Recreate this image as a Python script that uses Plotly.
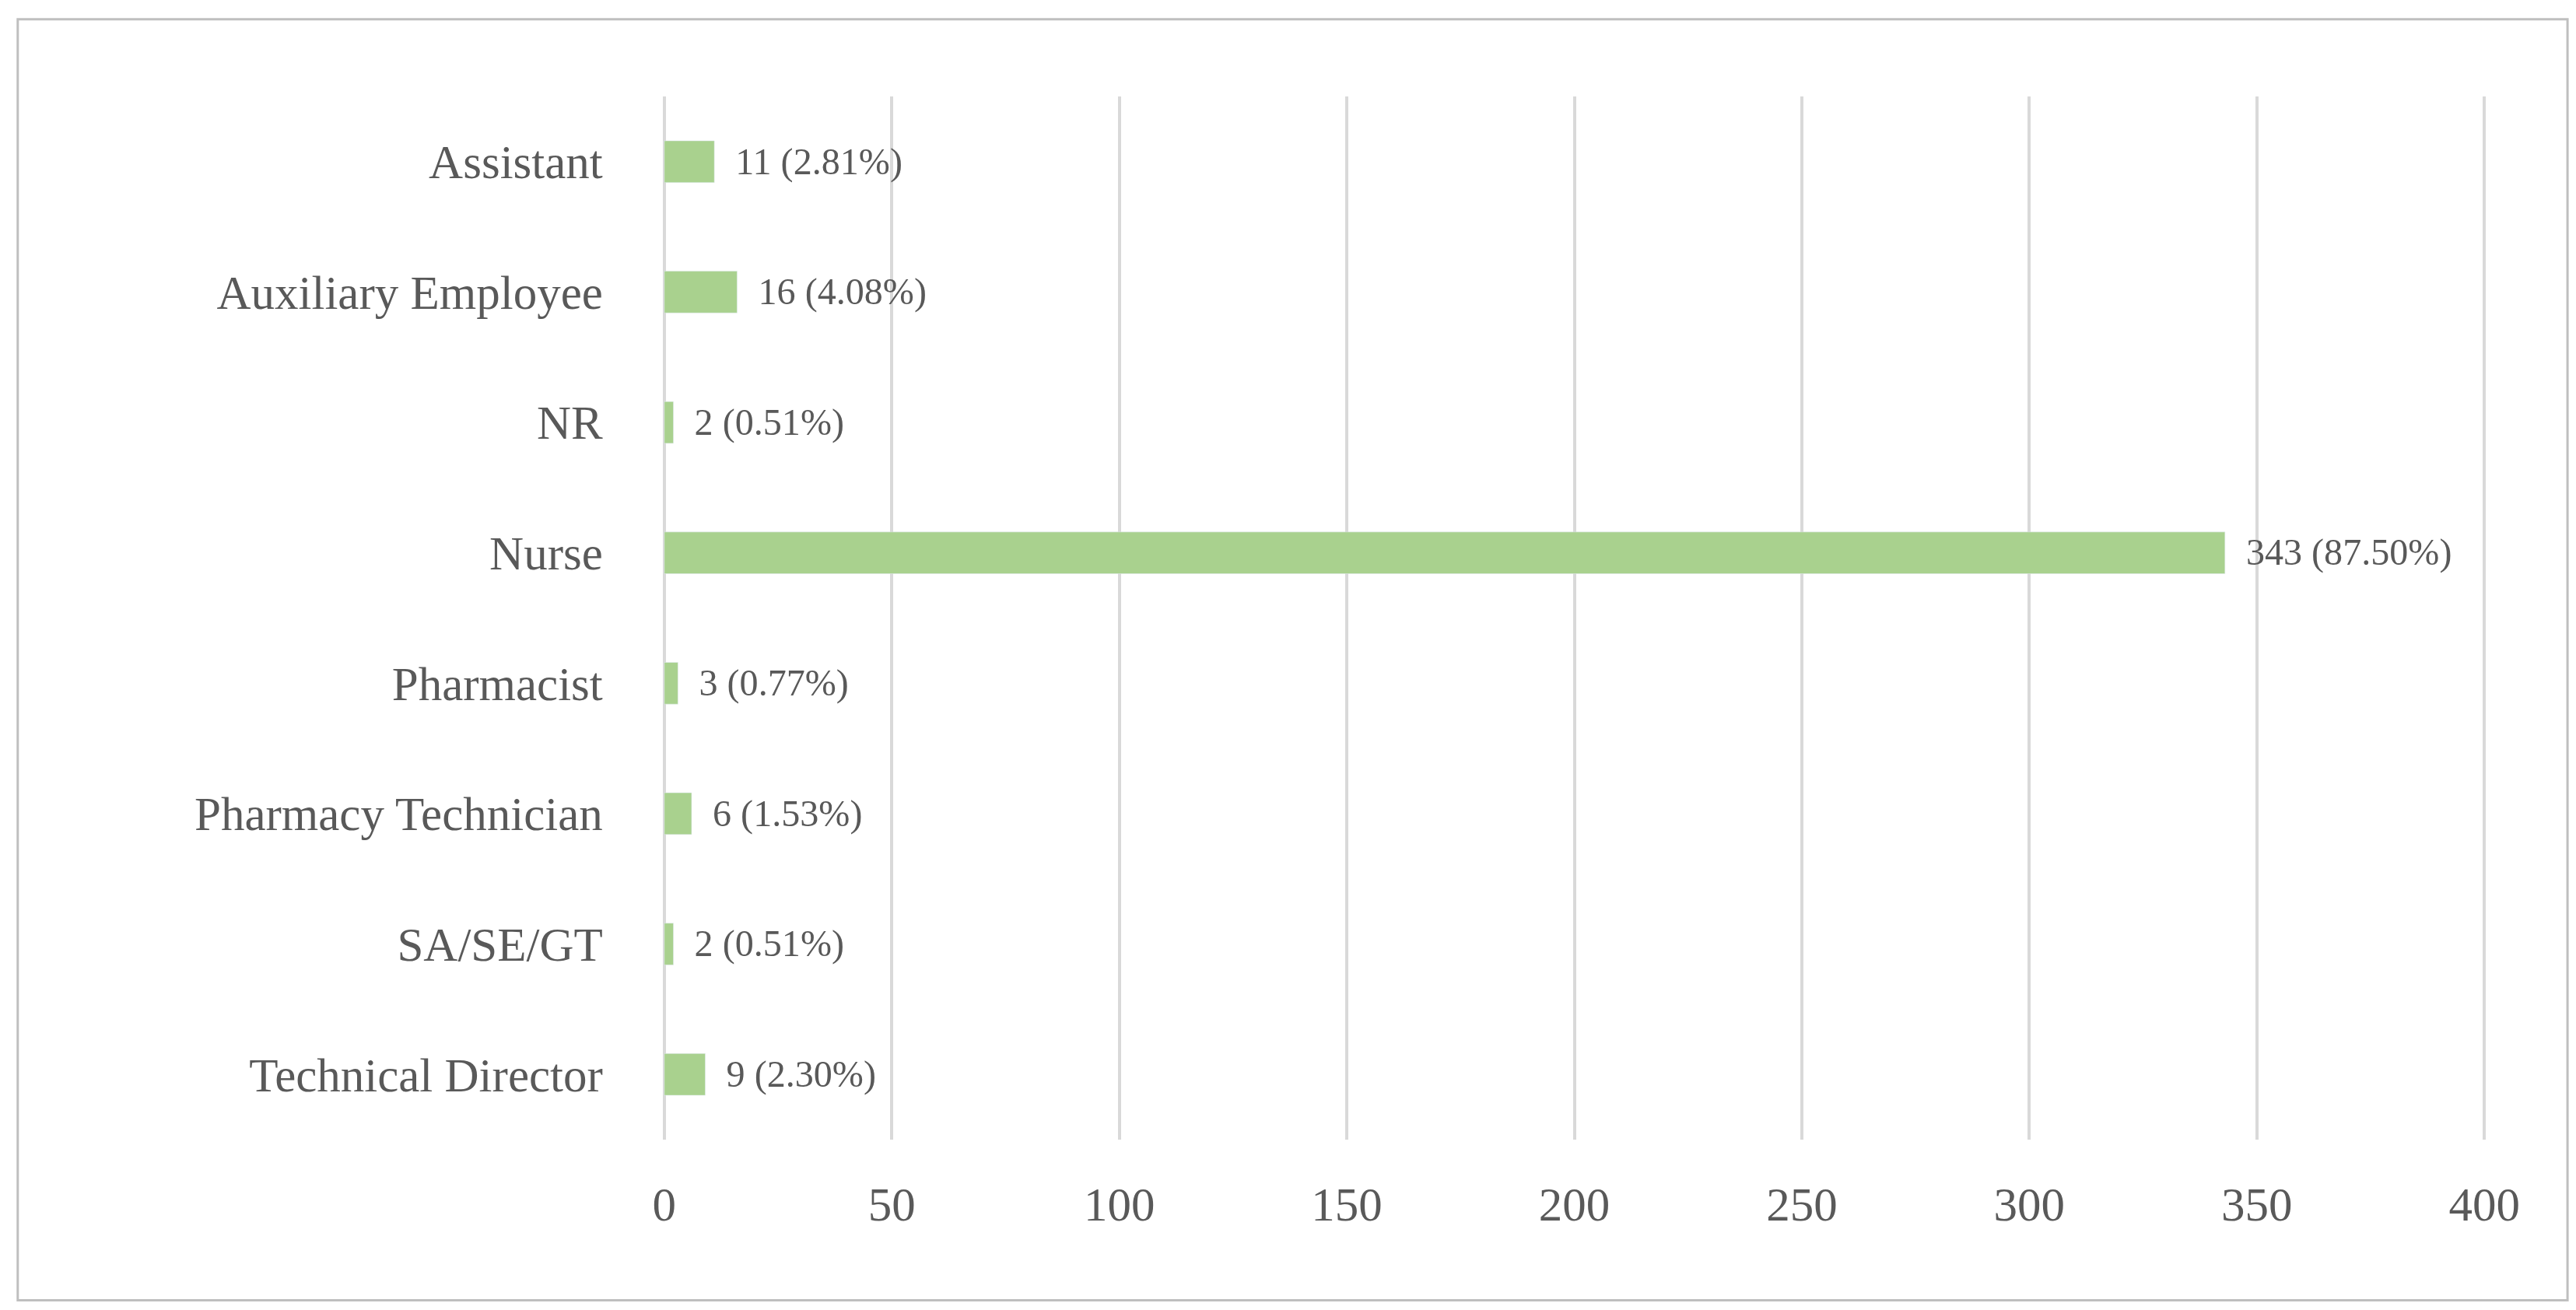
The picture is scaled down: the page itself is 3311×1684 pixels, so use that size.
import plotly.graph_objects as go

categories = ["Assistant", "Auxiliary Employee", "NR", "Nurse", "Pharmacist",
              "Pharmacy Technician", "SA/SE/GT", "Technical Director"]
counts = [11, 16, 2, 343, 3, 6, 2, 9]
percents = ["2.81%", "4.08%", "0.51%", "87.50%", "0.77%", "1.53%", "0.51%", "2.30%"]
labels = [f"  {c} ({p})" for c, p in zip(counts, percents)]
tick_vals = [0, 50, 100, 150, 200, 250, 300, 350, 400]

font = dict(family="Liberation Serif, DejaVu Serif, serif", size=61, color="#595959")

fig = go.Figure(go.Bar(
    y=categories, x=counts, orientation="h", marker_color="#A9D18E",
    text=labels, textposition="outside", cliponaxis=False,
    textfont=font,
))
fig.update_layout(
    width=3311, height=1684, plot_bgcolor="white", paper_bgcolor="white",
    margin=dict(l=840, r=120, t=116, b=227), bargap=0.68, font=font,
    showlegend=False,
    shapes=[dict(type="rect", xref="paper", yref="paper", x0=-0.351, x1=1.043,
                 y0=-0.154, y1=1.074, line=dict(color="#BFBFBF", width=3))],
)
fig.update_xaxes(range=[-1, 401], tickvals=tick_vals, showgrid=True, gridcolor="#D9D9D9",
                 gridwidth=4, zeroline=False, ticks="outside", ticklen=30,
                 tickcolor="rgba(0,0,0,0)", tickfont=font)
fig.update_yaxes(autorange="reversed", ticks="outside", ticklen=60,
                 tickcolor="rgba(0,0,0,0)", tickfont=font, showline=False)
fig.write_html("out.html")
